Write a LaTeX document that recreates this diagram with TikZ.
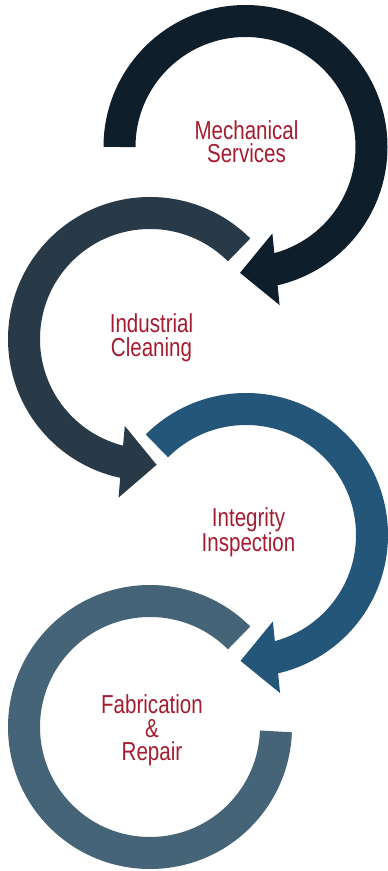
\documentclass[tikz,border=0pt]{standalone}
\usepackage{fontspec}
\setmainfont{Liberation Sans}[FakeStretch=0.79]
\usetikzlibrary{calc}
\definecolor{ringnavy}{HTML}{0E1E2B}
\definecolor{ringslate}{HTML}{283A47}
\definecolor{ringblue}{HTML}{235679}
\definecolor{ringgrey}{HTML}{466478}
\definecolor{labelred}{HTML}{A51C30}

\begin{document}
\begin{tikzpicture}[x=1pt,y=1pt,
    band/.style={line width=32pt},
    ringlabel/.style={labelred,align=center,inner sep=0pt,
      font=\fontsize{26}{23.5}\selectfont}]
    \useasboundingbox (0,0) rectangle (388,871);
    % ring centres
    \coordinate (mech)  at (245.5,724);
    \coordinate (clean) at (150,532);
    \coordinate (integ) at (246,336);
    \coordinate (fab)   at (150,144);
    % bands
    \draw[band,ringnavy]  ($(mech)+(180:126)$) arc[start angle=180,end angle=-80,radius=126];
    \draw[band,ringslate] ($(clean)+(45:126)$) arc[start angle=45,end angle=261,radius=126];
    \draw[band,ringblue]  ($(integ)+(135:126)$) arc[start angle=135,end angle=-80,radius=126];
    \draw[band,ringgrey]  ($(fab)+(45:126)$) arc[start angle=45,end angle=358,radius=126];
    % arrow heads
    \foreach \ring/\from/\to/\col in {mech/-76/-92.5/ringnavy,clean/257/273/ringslate,integ/-76/-92.5/ringblue}{
      \coordinate (\ring-base) at ($(\ring)+(\from:126)$);
      \coordinate (\ring-tip) at ($(\ring)+(\to:126)$);
      \fill[\col] ($(\ring-base)!36pt!90:(\ring-tip)$) -- (\ring-tip)
        -- ($(\ring-base)!36pt!-90:(\ring-tip)$) -- cycle;
    }
    % labels
    \node[ringlabel] (mech-text)  at ($(mech)+(1,5.5)$) {Mechanical\\Services};
    \node[ringlabel] (clean-text) at ($(clean)+(1.5,1)$) {Industrial\\Cleaning};
    \node[ringlabel] (integ-text) at ($(integ)+(2.5,3)$) {Integrity\\Inspection};
    \node[ringlabel] (fab-text)   at ($(fab)+(2,-3.5)$) {Fabrication\\\&\\Repair};
\end{tikzpicture}
\end{document}
